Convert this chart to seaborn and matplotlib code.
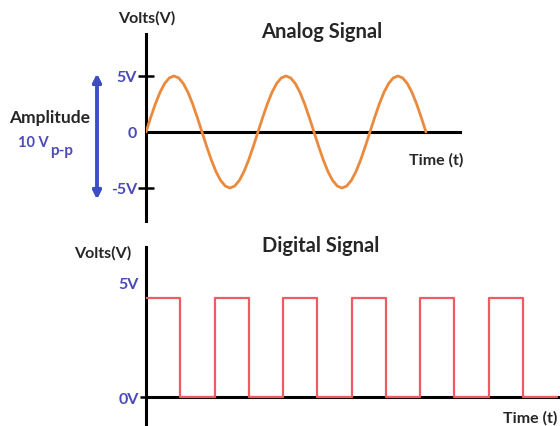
import numpy as np
import pandas as pd
import seaborn as sns
import matplotlib.pyplot as plt

# analog signal, read every 1/24 of a period (2.5 periods shown)
analog_volts = [0, 1.29, 2.5, 3.54, 4.33, 4.83, 5, 4.83, 4.33, 3.54, 2.5, 1.29,
                0, -1.29, -2.5, -3.54, -4.33, -4.83, -5, -4.83, -4.33, -3.54, -2.5, -1.29,
                0, 1.29, 2.5, 3.54, 4.33, 4.83, 5, 4.83, 4.33, 3.54, 2.5, 1.29,
                0, -1.29, -2.5, -3.54, -4.33, -4.83, -5, -4.83, -4.33, -3.54, -2.5, -1.29,
                0, 1.29, 2.5, 3.54, 4.33, 4.83, 5, 4.83, 4.33, 3.54, 2.5, 1.29, 0]
analog_periods = 2.5

# digital signal: level at each half-period edge
digital_time = [0, 0.5, 1, 1.5, 2, 2.5, 3, 3.5, 4, 4.5, 5, 5.5, 6]
digital_volts = [5, 0, 5, 0, 5, 0, 5, 0, 5, 0, 5, 0, 0]

analog_ticks = [-5, 0, 5]
analog_ticklabels = ['-5V', '0', '5V']
digital_ticks = [0, 5]
digital_ticklabels = ['0V', '']

sns.set_theme(style='white')
plt.rcParams['font.family'] = ['Lato', 'DejaVu Sans']
plt.rcParams['font.weight'] = 'bold'

blue = '#4a4ab8'
W, H = 560, 427
fig = plt.figure(figsize=(5.6, 4.27), dpi=100)


def fx(px):
    return px / W


def fy(py):
    return 1 - py / H


analog = pd.DataFrame({'t': np.linspace(0, analog_periods, len(analog_volts)),
                       'v': analog_volts})
digital = pd.DataFrame({'t': digital_time, 'v': digital_volts})

# --- analog ---
ax1 = fig.add_axes([fx(146), fy(222), fx(460 - 146), (222 - 35) / H])
sns.lineplot(data=analog, x='t', y='v', ax=ax1, color='#ea8a3c', lw=2, zorder=3)
ax1.set_xlim(0, 2.804)
ax1.set_ylim(-7.95, 8.75)

# --- digital ---
ax2 = fig.add_axes([fx(146), fy(425), fx(560 - 146), (425 - 248) / H])
sns.lineplot(data=digital, x='t', y='v', ax=ax2, color='#ef5a64', lw=1.6,
             drawstyle='steps-post', zorder=3)
ax2.set_xlim(0, 6.04)
ax2.set_ylim(-1.364, 7.58)

for ax in (ax1, ax2):
    ax.set_xlabel('')
    ax.set_ylabel('')
    ax.set_xticks([])
    ax.patch.set_alpha(0)
    ax.spines['top'].set_visible(False)
    ax.spines['right'].set_visible(False)
    ax.spines['bottom'].set_position(('data', 0))
    for s in ('left', 'bottom'):
        ax.spines[s].set_color('black')
        ax.spines[s].set_linewidth(2.2)

ax1.set_yticks(analog_ticks, analog_ticklabels)
ax1.tick_params(axis='y', left=True, direction='inout', length=11, width=1.8,
                color='black', pad=1, labelsize=11.5, labelcolor=blue)
ax1.yaxis.get_major_ticks()[1].tick1line.set_visible(False)

ax2.set_yticks(digital_ticks, digital_ticklabels)
ax2.tick_params(axis='y', left=True, direction='out', length=4, width=1.8,
                color='black', pad=1, labelsize=11.5, labelcolor=blue)
ax2.yaxis.get_major_ticks()[1].tick1line.set_visible(False)
ax2.annotate('5V', xy=(0, 5), xytext=(-5, 10), textcoords='offset points',
             ha='right', va='center', fontsize=11.5, color=blue, fontweight='bold')

# titles and axis names
fig.text(fx(322), fy(32), 'Analog Signal', ha='center', va='center', fontsize=14.5)
fig.text(fx(321), fy(246), 'Digital Signal', ha='center', va='center', fontsize=14.5)
fig.text(fx(147), fy(18), 'Volts(V)', ha='center', va='center', fontsize=11.5)
fig.text(fx(103), fy(253), 'Volts(V)', ha='center', va='center', fontsize=11.5)
fig.text(fx(436), fy(160), 'Time (t)', ha='center', va='center', fontsize=11.5)
fig.text(fx(530), fy(418), 'Time (t)', ha='center', va='center', fontsize=11.5)

# amplitude annotation
fig.text(fx(50), fy(118), 'Amplitude', ha='center', va='center', fontsize=12.5)
fig.text(fx(49), fy(143), '10 V', ha='right', va='center', fontsize=10.5, color=blue)
fig.text(fx(50), fy(151), 'p-p', ha='left', va='center', fontsize=11, color=blue)
fig.add_artist(plt.annotate('', xy=(fx(97), fy(72)), xytext=(fx(97), fy(203)),
                            xycoords='figure fraction', textcoords='figure fraction',
                            arrowprops=dict(arrowstyle='<|-|>', color='#3b4ec4',
                                            lw=2.5, mutation_scale=12)))

fig.savefig('out.png', dpi=100)
